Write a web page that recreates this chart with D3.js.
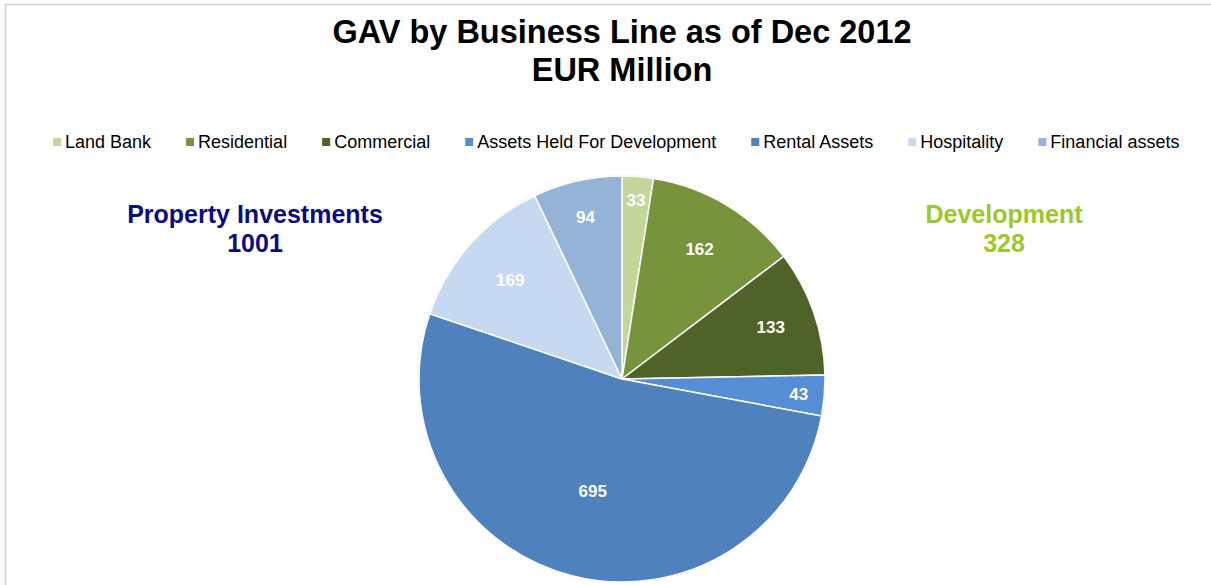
<!DOCTYPE html>
<html>
<head>
<meta charset="utf-8">
<script src="https://cdn.jsdelivr.net/npm/d3@7"></script>
<style>
  html, body { margin: 0; padding: 0; background: #fff; }
  svg { display: block; font-family: "Liberation Sans", Arial, sans-serif; }
</style>
</head>
<body>
<svg id="chart" width="1211" height="585"></svg>
<script>
// ---- data ----
const titleLines = ["GAV by Business Line as of Dec 2012", "EUR Million"];
const categories = ["Land Bank", "Residential", "Commercial", "Assets Held For Development", "Rental Assets", "Hospitality", "Financial assets"];
const values = [33, 162, 133, 43, 695, 169, 94];
const colors = ["#c4d79b", "#77933c", "#4f6228", "#558ed5", "#4f81bd", "#c6d9f1", "#95b3d7"];
const groupNames = ["Property Investments", "Development"];
const groupTotals = [1001, 328];
const groupColors = ["#0c0c80", "#9bc82a"];

const W = 1211, H = 585;
const svg = d3.select("#chart");

// frame
svg.append("path")
  .attr("d", `M5.5,${H} L5.5,4.5 L${W},4.5`)
  .attr("fill", "none").attr("stroke", "#d0d0d0").attr("stroke-width", 1.5);

// title
titleLines.forEach((t, i) => {
  svg.append("text")
    .attr("x", 622).attr("y", 43 + i * 38)
    .attr("text-anchor", "middle")
    .attr("font-size", 32.5).attr("font-weight", "bold").attr("fill", "#000")
    .text(t);
});

// legend
const legend = svg.append("g");
let lx = 53;
categories.forEach((c, i) => {
  const g = legend.append("g");
  g.append("rect").attr("x", lx).attr("y", 138).attr("width", 8).attr("height", 8)
    .attr("fill", colors[i]);
  const t = g.append("text").attr("x", lx + 12).attr("y", 148)
    .attr("font-size", 18).attr("fill", "#000").text(c);
  const w = t.node().getComputedTextLength();
  lx += 12 + w + 35;
});

// pie
const cx = 622, cy = 379, R = 203;
const pie = d3.pie().sort(null).value(d => d)(values);
const arc = d3.arc().innerRadius(0).outerRadius(R);
const pg = svg.append("g").attr("transform", `translate(${cx},${cy})`);

pg.append("circle").attr("r", R + 1).attr("fill", "#e8e8e8");
pg.selectAll("path.slice").data(pie).join("path")
  .attr("class", "slice")
  .attr("d", arc)
  .attr("fill", (d, i) => colors[i])
  .attr("stroke", "#ffffff").attr("stroke-width", 1.5).attr("stroke-linejoin", "round");

// labels: narrower slices pushed toward the rim
pg.selectAll("text.lbl").data(pie).join("text")
  .attr("class", "lbl")
  .attr("transform", d => {
    const span = (d.endAngle - d.startAngle) * 180 / Math.PI;
    const f = Math.max(0.57, 0.92 - 0.004 * span);
    const a = (d.startAngle + d.endAngle) / 2;
    return `translate(${Math.sin(a) * R * f},${-Math.cos(a) * R * f})`;
  })
  .attr("text-anchor", "middle").attr("dy", "0.36em")
  .attr("font-size", 17).attr("font-weight", "bold").attr("fill", "#ffffff")
  .text(d => d.data);

// group labels
const gx = [255, 1004];
groupNames.forEach((n, i) => {
  svg.append("text").attr("x", gx[i]).attr("y", 223)
    .attr("text-anchor", "middle").attr("font-size", 25).attr("font-weight", "bold")
    .attr("fill", groupColors[i]).text(n);
  svg.append("text").attr("x", gx[i]).attr("y", 252)
    .attr("text-anchor", "middle").attr("font-size", 25).attr("font-weight", "bold")
    .attr("fill", groupColors[i]).text(groupTotals[i]);
});
</script>
</body>
</html>
